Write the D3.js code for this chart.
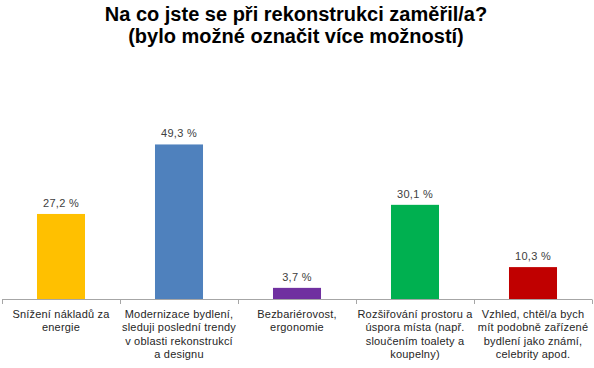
<!DOCTYPE html>
<html><head><meta charset="utf-8">
<script src="https://cdn.jsdelivr.net/npm/d3@7"></script>
<style>body{margin:0;background:#fff}svg{display:block}</style>
</head><body>
<script>
const titleLines = ["Na co jste se při rekonstrukci zaměřil/a?", "(bylo možné označit více možností)"];
const categories = ["Snížení nákladů za energie", "Modernizace bydlení, sleduji poslední trendy v oblasti rekonstrukcí a designu", "Bezbariérovost, ergonomie", "Rozšiřování prostoru a úspora místa (např. sloučením toalety a koupelny)", "Vzhled, chtěl/a bych mít podobně zařízené bydlení jako známí, celebrity apod."];
const categoryLines = [
  ["Snížení nákladů za", "energie"],
  ["Modernizace bydlení,", "sleduji poslední trendy", "v oblasti rekonstrukcí", "a designu"],
  ["Bezbariérovost,", "ergonomie"],
  ["Rozšiřování prostoru a", "úspora místa (např.", "sloučením toalety a", "koupelny)"],
  ["Vzhled, chtěl/a bych", "mít podobně zařízené", "bydlení jako známí,", "celebrity apod."]
];
const values = [27.2, 49.3, 3.7, 30.1, 10.3];
const colors = ["#FFC000", "#4F81BD", "#7030A0", "#00B050", "#C00000"];

const W = 594, H = 368;
const svg = d3.select("body").append("svg").attr("width", W).attr("height", H);

const x = d3.scaleBand().domain(categories).range([2, 592]).paddingInner(0.593).paddingOuter(0.2965);
const y = d3.scaleLinear().domain([0, 60]).range([299.5, 110.8]);

svg.append("g").attr("class", "title").selectAll("text").data(titleLines).join("text")
  .attr("x", 296).attr("y", (d, i) => 21 + i * 22)
  .attr("text-anchor", "middle")
  .attr("font-family", "Liberation Sans, Arial, sans-serif")
  .attr("font-weight", "bold").attr("font-size", 20).attr("fill", "#000")
  .text(d => d);

svg.append("g").attr("class", "bars").selectAll("rect").data(values).join("rect")
  .attr("x", (d, i) => x(categories[i]))
  .attr("width", x.bandwidth())
  .attr("y", d => y(d))
  .attr("height", d => y(0) - y(d))
  .style("fill", (d, i) => colors[i]);

svg.append("g").attr("class", "values").selectAll("text").data(values).join("text")
  .attr("x", (d, i) => x(categories[i]) + x.bandwidth() / 2)
  .attr("y", d => y(d) - 7)
  .attr("text-anchor", "middle")
  .attr("font-family", "Liberation Sans, Arial, sans-serif")
  .attr("font-size", 11).attr("letter-spacing", 0.3).attr("fill", "#404040")
  .text(d => d.toFixed(1).replace(".", ",") + " %");

// axis
const axisG = svg.append("g").attr("class", "axis");
axisG.append("line").attr("x1", 2).attr("x2", 592).attr("y1", 299.5).attr("y2", 299.5)
  .attr("stroke", "#a6a6a6").attr("stroke-width", 1);
const bounds = [0, 1, 2, 3, 4, 5].map(i => 2 + i * x.step());
axisG.selectAll("line.tick").data(bounds).join("line").attr("class", "tick")
  .attr("x1", d => Math.round(d) + 0.5).attr("x2", d => Math.round(d) + 0.5)
  .attr("y1", 299.5).attr("y2", 304)
  .attr("stroke", "#a6a6a6");

const lab = svg.append("g").attr("class", "labels").selectAll("text").data(categoryLines).join("text")
  .attr("x", (d, i) => x(categories[i]) + x.bandwidth() / 2)
  .attr("y", 318)
  .attr("text-anchor", "middle")
  .attr("font-family", "Liberation Sans, Arial, sans-serif")
  .attr("font-size", 11).attr("letter-spacing", 0.2).attr("fill", "#262626");
lab.selectAll("tspan").data(d => d).join("tspan")
  .attr("x", function() { return this.parentNode.getAttribute("x"); })
  .attr("dy", (d, i) => i === 0 ? 0 : 13.3)
  .text(d => d);
</script>
</body></html>
